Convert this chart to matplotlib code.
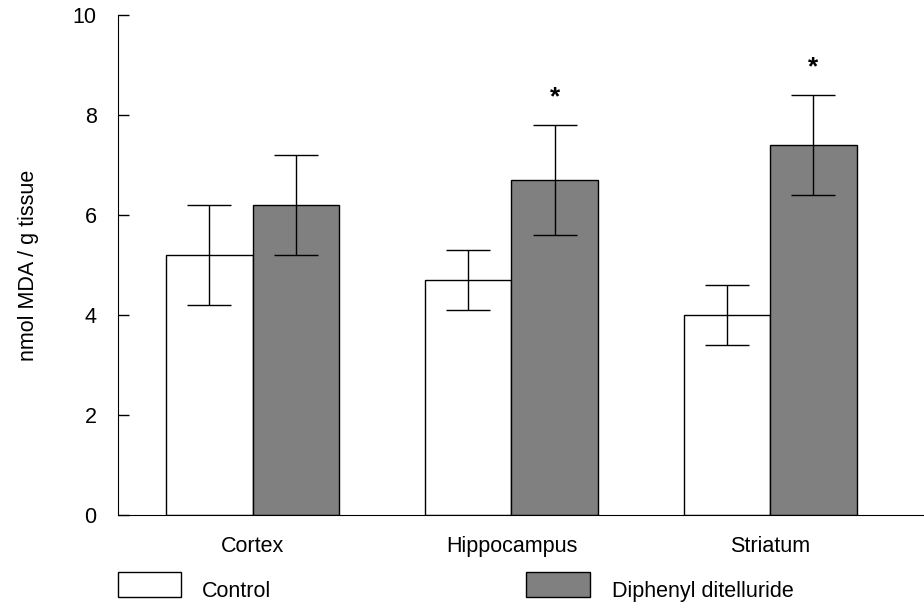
import matplotlib.pyplot as plt
from matplotlib.patches import Rectangle
import numpy as np

# data
regions = ["Cortex", "Hippocampus", "Striatum"]
groups = ["Control", "Diphenyl ditelluride"]
control_mean = [5.2, 4.7, 4.0]
control_err = [1.0, 0.6, 0.6]
diph_mean = [6.2, 6.7, 7.4]
diph_err = [1.0, 1.1, 1.0]
significant = [False, True, True]

colors = ["white", "#808080"]

plt.rcParams['font.family'] = ['Liberation Sans', 'DejaVu Sans']
plt.rcParams['font.size'] = 15.5

fig = plt.figure(figsize=(9.24, 6.05), dpi=100)
ax = fig.add_axes([0.1272, 0.1488, 0.8728, 0.8264])

x = np.arange(len(regions))
w = 0.334

ax.bar(x - w / 2, control_mean, w, color=colors[0], edgecolor="black", linewidth=1)
ax.bar(x + w / 2, diph_mean, w, color=colors[1], edgecolor="black", linewidth=1)
ax.errorbar(x - w / 2, control_mean, yerr=control_err, fmt="none", ecolor="black",
            elinewidth=1, capsize=15.5, capthick=1)
ax.errorbar(x + w / 2, diph_mean, yerr=diph_err, fmt="none", ecolor="black",
            elinewidth=1, capsize=15.5, capthick=1)

# significance stars
for i, sig in enumerate(significant):
    if sig:
        ax.text(x[i] + w / 2, diph_mean[i] + diph_err[i] + 0.42, "*",
                ha="center", va="baseline", fontsize=19, fontweight="bold")

ax.set_xlim(-0.522, 2.594)
ax.set_ylim(0, 10)
ax.set_yticks([0, 2, 4, 6, 8, 10])
ax.set_xticks(x)
ax.set_xticklabels(regions)
ax.tick_params(axis="x", length=0, pad=15)
ax.tick_params(axis="y", direction="in", length=8, width=1, pad=15)
ax.spines["top"].set_visible(False)
ax.spines["right"].set_visible(False)
ax.set_ylabel("nmol MDA / g tissue", labelpad=24)

# legend drawn by hand below the axis
box_x = [117.5, 526]
text_x = [202, 612]
for bx, tx, c, lab in zip(box_x, text_x, colors, groups):
    fig.add_artist(Rectangle((bx / 924, (605 - 597) / 605), 63.5 / 924, 25 / 605,
                             transform=fig.transFigure, facecolor=c,
                             edgecolor="black", linewidth=1))
    fig.text(tx / 924, (605 - 597) / 605, lab, ha="left", va="baseline")

plt.savefig("out.png", dpi=100)
plt.close()
